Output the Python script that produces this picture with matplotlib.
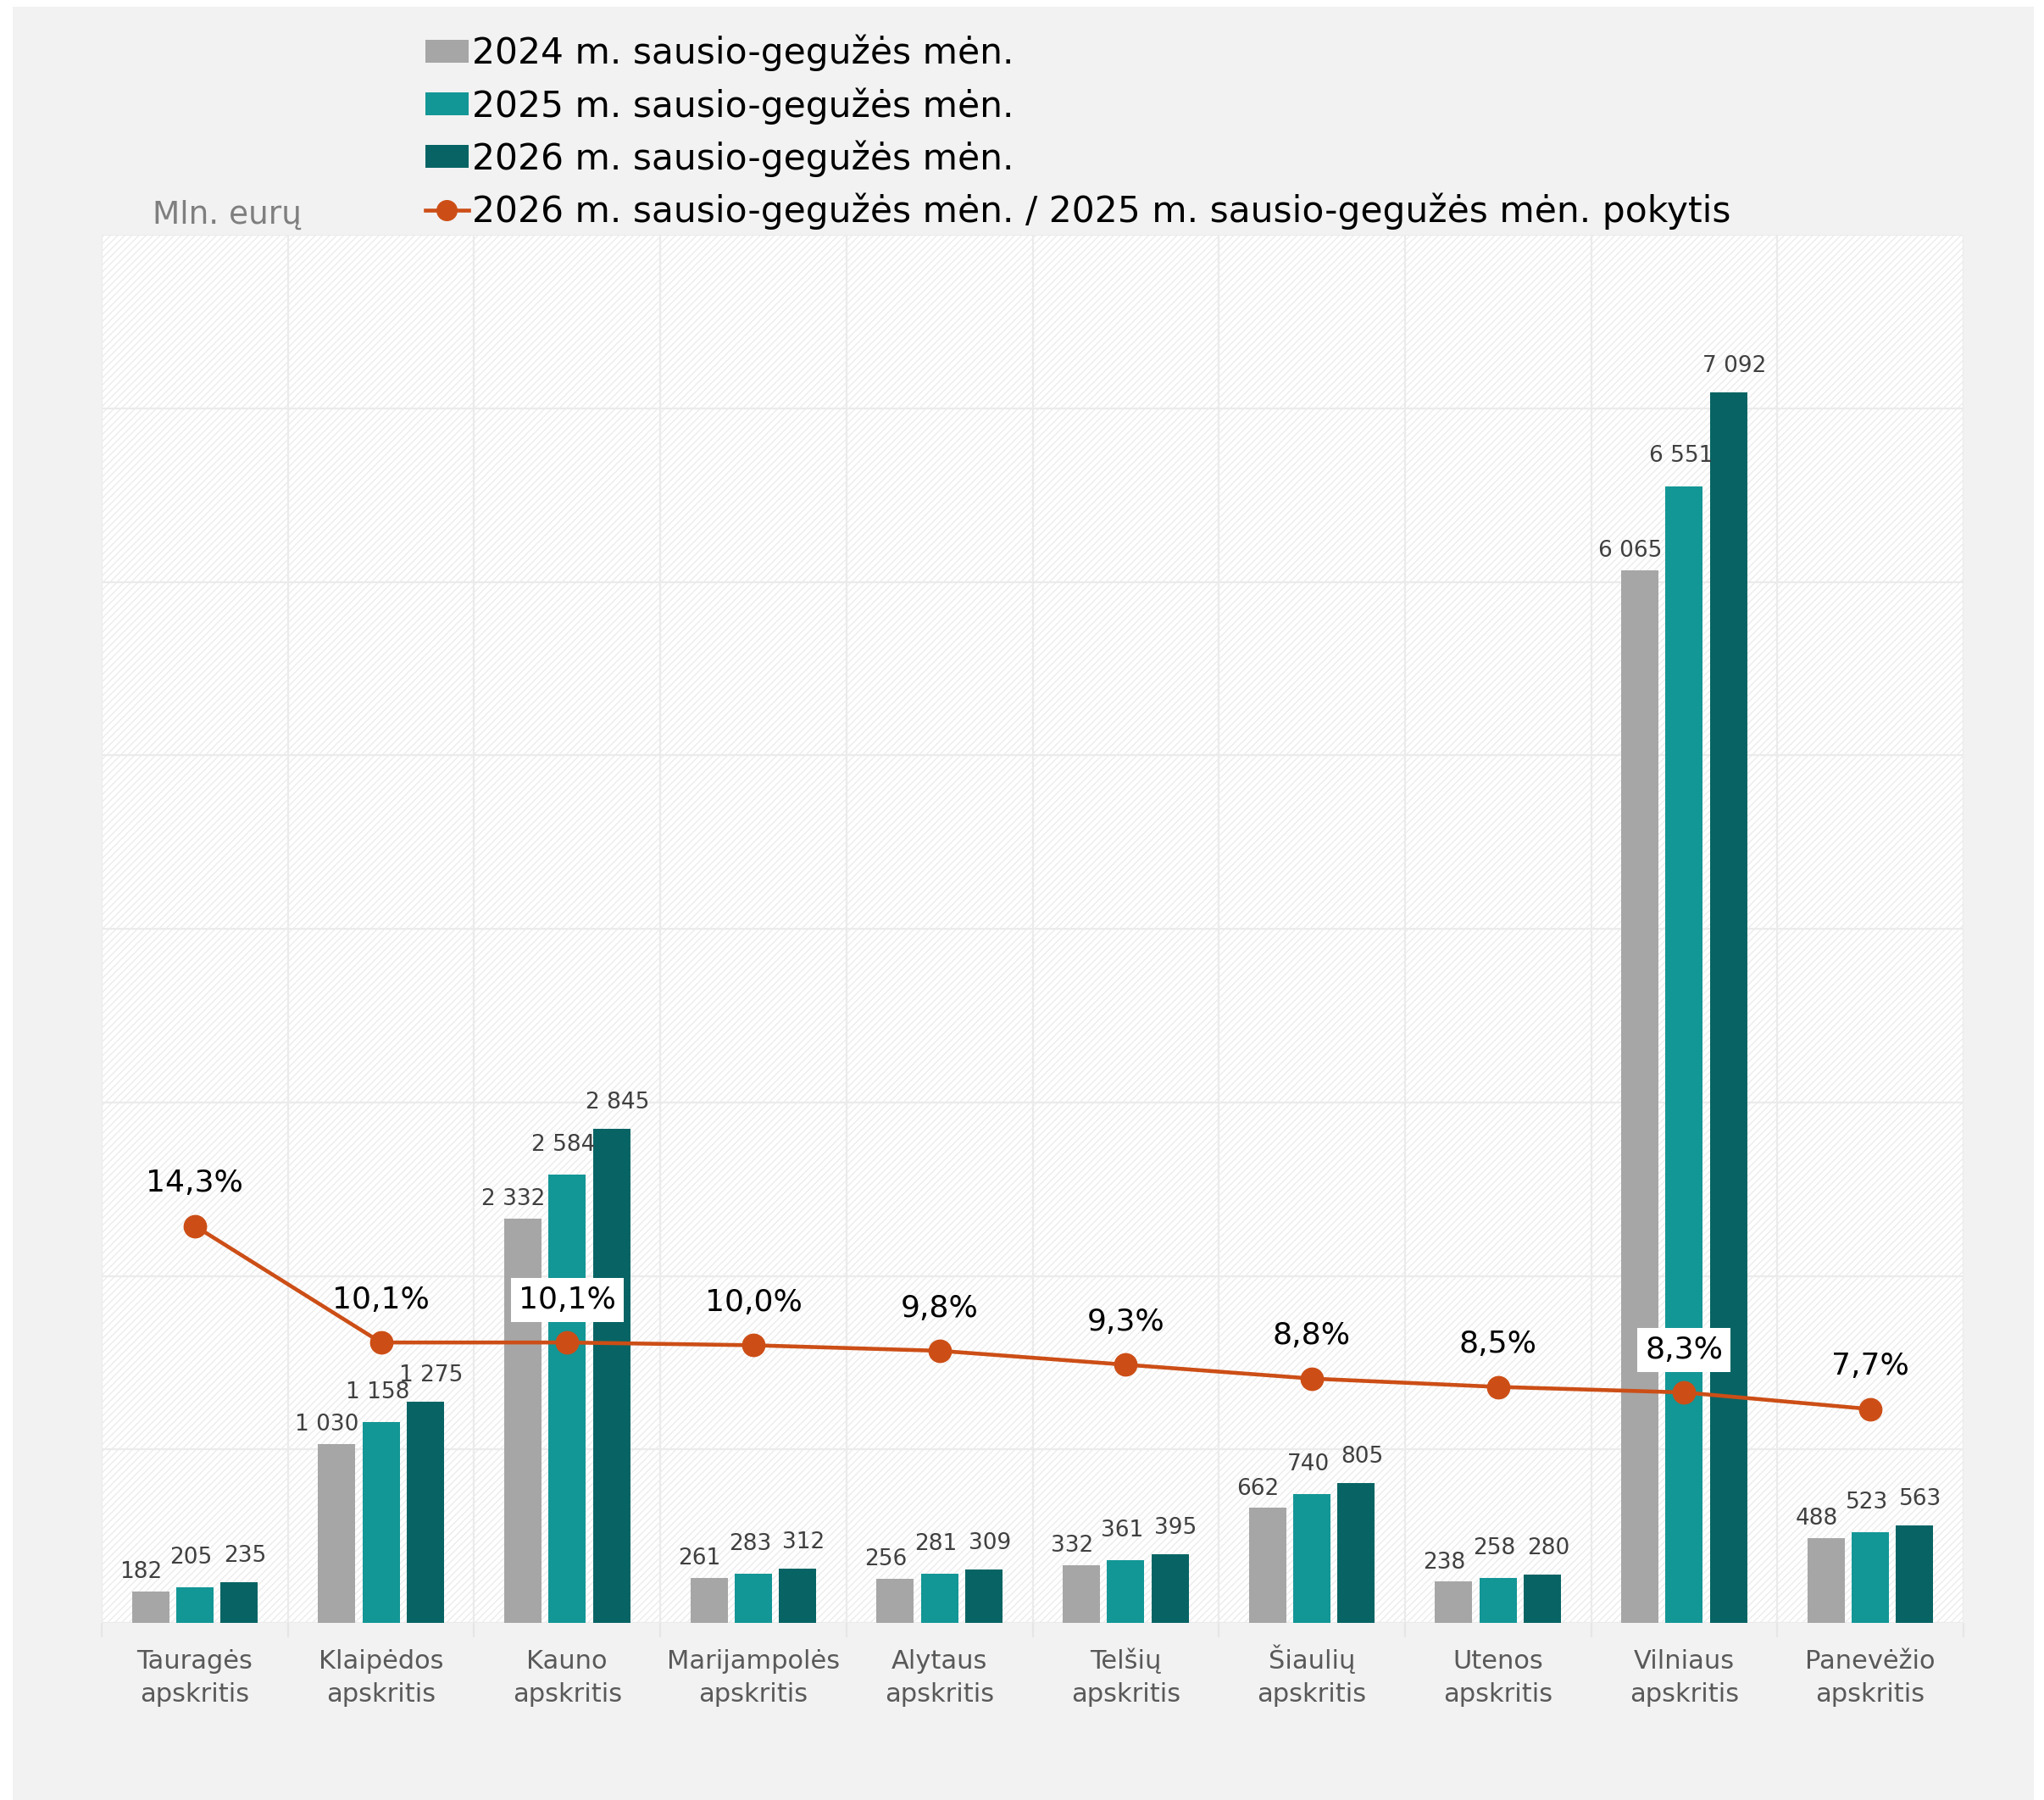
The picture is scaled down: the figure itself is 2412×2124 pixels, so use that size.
import matplotlib
matplotlib.use("Agg")
import matplotlib.pyplot as plt
from matplotlib.patches import Rectangle, Patch
from matplotlib.lines import Line2D
import numpy as np

plt.rcParams['font.family'] = ['DejaVu Sans']
plt.rcParams['hatch.color'] = '#ececec'
plt.rcParams['hatch.linewidth'] = 1.0

categories = ["Tauragės\napskritis", "Klaipėdos\napskritis", "Kauno\napskritis",
              "Marijampolės\napskritis", "Alytaus\napskritis", "Telšių\napskritis",
              "Šiaulių\napskritis", "Utenos\napskritis", "Vilniaus\napskritis",
              "Panevėžio\napskritis"]
v2024 = [182, 1030, 2332, 261, 256, 332, 662, 238, 6065, 488]
v2025 = [205, 1158, 2584, 283, 281, 361, 740, 258, 6551, 523]
v2026 = [235, 1275, 2845, 312, 309, 395, 805, 280, 7092, 563]
change = [14.3, 10.1, 10.1, 10.0, 9.8, 9.3, 8.8, 8.5, 8.3, 7.7]
boxed = [2, 8]

series_names = ["2024 m. sausio-gegužės mėn.", "2025 m. sausio-gegužės mėn.",
                "2026 m. sausio-gegužės mėn."]
line_name = "2026 m. sausio-gegužės mėn. / 2025 m. sausio-gegužės mėn. pokytis"
colors = ["#a6a6a6", "#139696", "#086464"]
line_color = "#cc4e16"

W, H = 2412, 2124
fig = plt.figure(figsize=(W / 100, H / 100), dpi=100, facecolor="white")
fig.patches.append(Rectangle((15 / W, 0), (2400 - 15) / W, 1 - 8 / H,
                             transform=fig.transFigure, facecolor="#f2f2f2",
                             edgecolor="none", zorder=-10))

ax = fig.add_axes([120 / W, 1 - 1915 / H, (2317 - 120) / W, (1915 - 277) / H])
ax.set_facecolor("white")
ax.add_patch(Rectangle((0, 0), 1, 1, transform=ax.transAxes, facecolor="none",
                       hatch="////", edgecolor="#ececec", lw=0, zorder=0))

x = np.arange(len(categories))
bw = 0.2
step = 0.238
label_dx = [-8, -3, 5]
label_dy = [7, 16, 13]
for i, (vals, c) in enumerate(zip([v2024, v2025, v2026], colors)):
    pos = x + (i - 1) * step
    ax.bar(pos, vals, width=bw, color=c, zorder=3)
    for p, v in zip(pos, vals):
        ax.annotate(f"{v:,}".replace(",", " "), (p, v),
                    xytext=(label_dx[i], label_dy[i]),
                    textcoords="offset points", ha="center", va="bottom",
                    fontsize=19, color="#404040", zorder=5)

ax.set_xlim(-0.5, len(categories) - 0.5)
ax.set_ylim(0, 8000)
ax.set_yticks(np.arange(0, 8001, 1000))
ax.set_yticklabels([])
ax.tick_params(axis="y", length=0)
ax.yaxis.grid(True, color="#ebebeb", lw=1.6, zorder=1)
ax.set_xticks(x)
ax.set_xticklabels([])
ax.tick_params(axis="x", which="major", length=0)
ax.set_xticks(np.arange(-0.5, len(categories), 1), minor=True)
ax.tick_params(axis="x", which="minor", length=12, color="#e6e6e6", width=1.6)
ax.xaxis.grid(True, which="minor", color="#ebebeb", lw=1.6, zorder=1)
ax.set_axisbelow(True)
for s in ax.spines.values():
    s.set_visible(False)

for xi, cat in zip(x, categories):
    first, second = cat.split("\n")
    ax.annotate(first, (xi, 0), xycoords=("data", "axes fraction"),
                xytext=(0, -39), textcoords="offset points", ha="center",
                va="baseline", fontsize=22, color="#595959")
    ax.annotate(second, (xi, 0), xycoords=("data", "axes fraction"),
                xytext=(0, -67), textcoords="offset points", ha="center",
                va="baseline", fontsize=22, color="#595959")

ax2 = ax.twinx()
ax2.set_ylim(0, 50)
ax2.plot(x, change, color=line_color, lw=3.3, marker="o", markersize=19, zorder=6)
ax2.set_yticks([])
for s in ax2.spines.values():
    s.set_visible(False)
for i, (xi, c) in enumerate(zip(x, change)):
    lbl = f"{c:.1f}%".replace(".", ",")
    kw = {}
    if i in boxed:
        kw["bbox"] = dict(boxstyle="square,pad=0.25", fc="white", ec="none")
    ax2.annotate(lbl, (xi, c), xytext=(0, 24), textcoords="offset points",
                 ha="center", va="bottom", fontsize=26, color="black", zorder=7, **kw)

handles = [Patch(facecolor=c, edgecolor="none") for c in colors]
handles.append(Line2D([0], [0], color=line_color, lw=3.3, marker="o", markersize=17))
fig.legend(handles, series_names + [line_name], loc="upper left",
           bbox_to_anchor=(485 / W, 1 - 24 / H), frameon=False, fontsize=30.5,
           handlelength=1.2, handleheight=0.6, handletextpad=0.1, labelspacing=0.44,
           borderaxespad=0)

fig.text(180 / W, 1 - 254 / H, "Mln. eurų", fontsize=27, color="#7f7f7f",
         ha="left", va="center")

fig.savefig("out.png", dpi=100, facecolor="white")
